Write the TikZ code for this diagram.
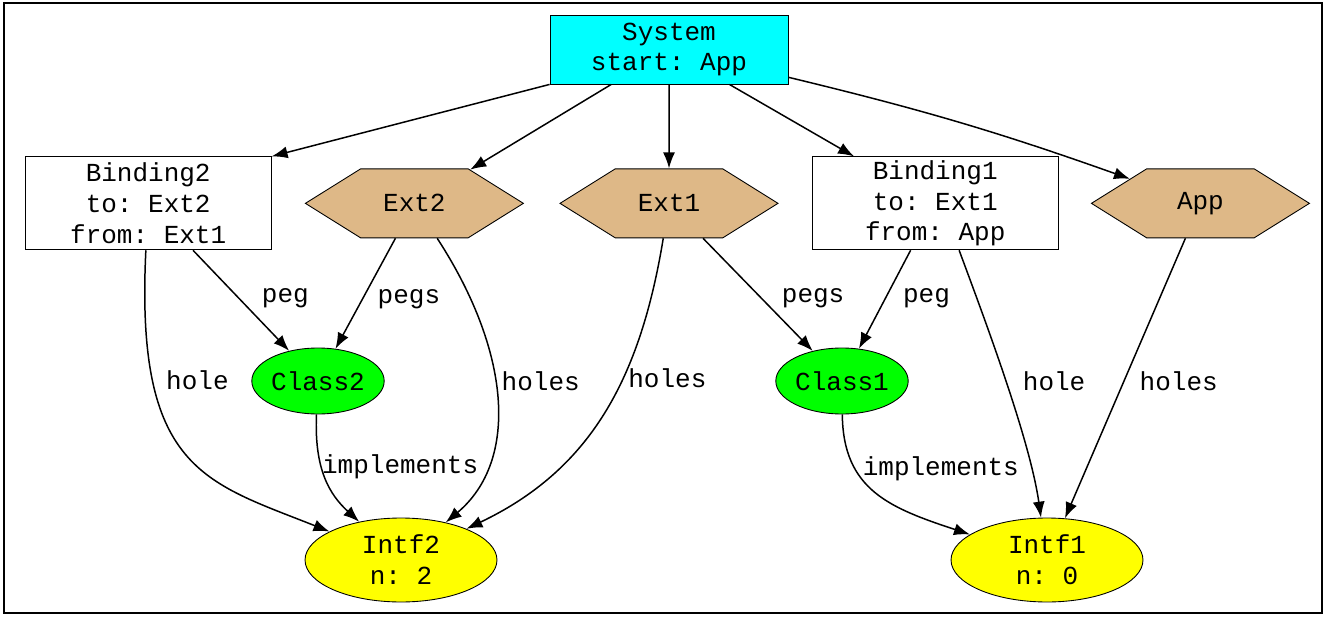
\documentclass[tikz,border=0pt]{standalone}
\usepackage{fontspec}
\setmonofont{Liberation Mono}
\usepackage{tikz}
\usetikzlibrary{ arrows.meta, shapes.geometric, shapes.symbols, positioning }
\definecolor{syscyan}{HTML}{00FFFF}
\definecolor{extbrown}{HTML}{DEB887}
\definecolor{clsgreen}{HTML}{00FF00}
\definecolor{intfyellow}{HTML}{FFFF00}
\tikzset{
>={Latex[length=0.32cm,width=0.24cm]}, % filled arrow heads
every node/.style={inner sep=0pt, align=center,
  font=\ttfamily\fontsize{14.8pt}{17.6pt}\selectfont},
sysbox/.style={draw, line width=0.5pt, fill=syscyan, minimum width=4.76cm, minimum height=1.38cm},
bindbox/.style={draw, line width=0.5pt, minimum width=4.92cm, minimum height=1.86cm},
ext/.style={draw, line width=0.5pt, fill=extbrown, signal, signal to=east and west,
  signal pointer angle=64, minimum width=4.36cm, minimum height=1.38cm},
cls/.style={draw, line width=0.5pt, fill=clsgreen, ellipse, minimum width=2.44cm, minimum height=1.32cm},
intf/.style={draw, line width=0.5pt, fill=intfyellow, ellipse, minimum width=3.84cm, minimum height=1.68cm},
}

\begin{document}
\begin{tikzpicture}[x=0.02cm, y=0.02cm, line width=0.85pt]
  \useasboundingbox (0,0) rectangle (1335,616);
  \draw[line width=0.04cm] (4,3) rectangle (1322,613); % frame

  \node[sysbox] (sys) at (669,566.5) {System\\start: App};
  \node[ext, below=1.68cm of sys] (e1) {Ext1};
  \node[ext, left=0.7cm of e1] (e2) {Ext2};
  \node[bindbox, left=0.66cm of e2] (b2) {Binding2\\to: Ext2\\from: Ext1};
  \node[bindbox, right=0.66cm of e1] (b1) {Binding1\\to: Ext1\\from: App};
  \node[ext, right=0.64cm of b1] (app) {App};
  \node[cls] (c2) at (318,235) {Class2};
  \node[cls] (c1) at (842,235) {Class1};
  \node[intf] (i2) at (401,56) {Intf2\\n: 2};
  \node[intf] (i1) at (1047,56) {Intf1\\n: 0};

  \path[->]
  (sys.south west) edge (b2.north east)
  (sys) edge (e2)
  (sys) edge (e1)
  (sys) edge (b1)
  (sys) edge[bend left=3] (app)
  (b2) edge node[pos=0.48, right=0.44cm] (lpeg2) {peg} (c2)
  (e2) edge node[pos=0.55, right=0.29cm] (lpegs2) {pegs} (c2)
  (e1) edge node[pos=0.53, right=0.4cm] (lpegs1) {pegs} (c1)
  (b1) edge node[pos=0.49, right=0.34cm] (lpeg1) {peg} (c1)
  (app) edge node[pos=0.51, right=0.3cm] (lholes3) {holes} (i1);

  \draw[->] (b2) .. controls (135,146) and (205,134) .. (i2) node[pos=0.25, right=0.26cm] (lhole2) {hole};
  \draw[->] (e2) .. controls (510,266) and (520,156) .. (i2) node[pos=0.44, right=0.12cm] (lholes2) {holes};
  \draw[->] (e1) .. controls (640,236) and (590,146) .. (i2) node[pos=0.38, right=0.1cm] (lholes1) {holes};
  \draw[->] (c2) .. controls (314,146) and (330,121) .. (i2) node[pos=0.38, anchor=west] (limpl2) {implements};
  \draw[->] (c1) .. controls (843,126) and (890,108) .. (i1) node[pos=0.3, right=0.14cm] (limpl1) {implements};
  \draw[->] (b1.-63) .. controls (985,296) and (1030,176) .. (i1) node[pos=0.5, right=0.33cm] (lhole1) {hole};
\end{tikzpicture}
\end{document}
